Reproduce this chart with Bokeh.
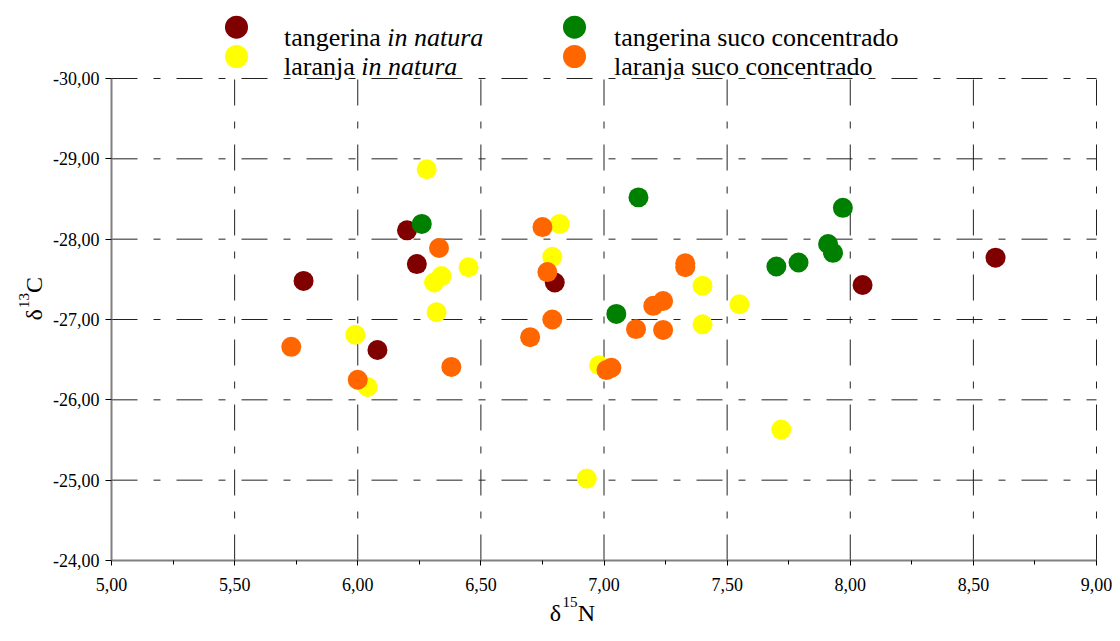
import math
from bokeh.plotting import figure
from bokeh.models import Range1d, SingleIntervalTicker, CustomJSTickFormatter, LinearAxis
from bokeh.embed import file_html
from bokeh.resources import INLINE
from bokeh.core.properties import value

# ---------------- data ----------------
series_names = ["tangerina in natura", "laranja in natura",
                "tangerina suco concentrado", "laranja suco concentrado"]
series_colors = ["#800000", "#FFFF00", "#008000", "#FF6600"]

tang_nat_n15 = [5.78, 6.20, 6.24, 6.08, 6.80, 8.05, 8.59]
tang_nat_c13 = [-27.48, -28.11, -27.69, -26.62, -27.46, -27.43, -27.77]

lar_nat_n15 = [6.28, 6.45, 6.34, 6.31, 6.32, 5.99, 6.04, 6.82, 6.79, 7.40, 7.55, 7.40, 6.98, 7.72, 6.93]
lar_nat_c13 = [-28.87, -27.65, -27.54, -27.46, -27.09, -26.81, -26.16, -28.19, -27.78, -27.42, -27.19, -26.94, -26.43, -25.63, -25.02]

tang_suco_n15 = [7.14, 7.97, 7.91, 7.93, 7.70, 7.79, 7.05, 6.26]
tang_suco_c13 = [-28.52, -28.39, -27.94, -27.83, -27.66, -27.71, -27.07, -28.19]

lar_suco_n15 = [6.33, 5.73, 6.38, 6.00, 6.75, 6.77, 6.79, 6.70, 7.33, 7.33, 7.20, 7.24, 7.13, 7.24, 7.01, 7.03]
lar_suco_c13 = [-27.89, -26.66, -26.41, -26.25, -28.15, -27.59, -27.00, -26.78, -27.65, -27.70, -27.17, -27.23, -26.88, -26.87, -26.37, -26.40]

x_ticks = [5.0, 5.5, 6.0, 6.5, 7.0, 7.5, 8.0, 8.5, 9.0]
y_ticks = [-30.0, -29.0, -28.0, -27.0, -26.0, -25.0, -24.0]
x_min, x_max = 5.0, 9.0
y_top, y_bottom = -30.0, -24.0   # reversed axis: -30 on top

FONT = "Liberation Serif"

# ---------------- geometry (canvas pixels) ----------------
CANVAS_W, CANVAS_H = 1112, 625
PLOT_L, PLOT_R, PLOT_T, PLOT_B = 111, 1096, 78, 560

def dxp(px):
    return x_min + (px - PLOT_L) * (x_max - x_min) / (PLOT_R - PLOT_L)

def dyp(py):
    return y_top + (py - PLOT_T) * (y_bottom - y_top) / (PLOT_B - PLOT_T)

p = figure(width=CANVAS_W, height=CANVAS_H,
           x_range=Range1d(dxp(0), dxp(CANVAS_W)),
           y_range=Range1d(dyp(CANVAS_H), dyp(0)),
           min_border=0, x_axis_location=None, y_axis_location=None,
           toolbar_location=None, output_backend="svg")
p.outline_line_color = None
p.grid.visible = False
p.background_fill_color = None
p.border_fill_color = None

fmt = CustomJSTickFormatter(code="return tick.toFixed(2).replace('.', ',');")

xaxis = LinearAxis(fixed_location=y_bottom, bounds=(x_min, x_max),
                   ticker=SingleIntervalTicker(interval=0.5, num_minor_ticks=2), formatter=fmt)
yaxis = LinearAxis(fixed_location=x_min, bounds=(y_top, y_bottom),
                   ticker=SingleIntervalTicker(interval=1.0, num_minor_ticks=0), formatter=fmt)
for ax in (xaxis, yaxis):
    ax.axis_line_color = "#808080"
    ax.axis_line_width = 2
    ax.major_tick_line_color = "black"
    ax.major_tick_in = 0
    ax.major_label_text_font = FONT
    ax.major_label_text_font_size = "18px"
    ax.major_label_text_color = "black"
xaxis.major_tick_out = 5
xaxis.minor_tick_out = 4
xaxis.minor_tick_in = 0
xaxis.minor_tick_line_color = "black"
xaxis.major_label_standoff = 12
yaxis.major_tick_out = 6
yaxis.minor_tick_line_color = None
yaxis.major_label_standoff = 6
p.add_layout(xaxis, "below")
p.add_layout(yaxis, "left")

# dashed grid (dash-dot pattern), limited to the plotting area
GRID = dict(line_color="#222222", line_width=1, line_dash="26 16 7 16")
vx = [t for t in x_ticks if t != x_min]
p.segment(x0=vx, y0=[y_bottom] * len(vx), x1=vx, y1=[y_top] * len(vx), **GRID)
hy = [t for t in y_ticks if t != y_bottom]
p.segment(x0=[x_min] * len(hy), y0=hy, x1=[x_max] * len(hy), y1=hy, **GRID)

# data
series = [(tang_nat_n15, tang_nat_c13), (lar_nat_n15, lar_nat_c13),
          (tang_suco_n15, tang_suco_c13), (lar_suco_n15, lar_suco_c13)]
for (xs, ys), col in zip(series, series_colors):
    p.scatter(x=xs, y=ys, size=20, fill_color=col, line_color=None)

# ---------------- legend (two columns above the plot) ----------------
col_marker_x = [236, 574]
col_text_x = [283.5, 613.5]
row_marker_y = [26.7, 56.0]
row_base_y = [36.7, 65.5]
legend_layout = [(0, 0, 0, "tangerina ", "in natura"),
                 (1, 0, 1, "laranja ", "in natura"),
                 (2, 1, 0, "tangerina suco concentrado", ""),
                 (3, 1, 1, "laranja suco concentrado", "")]
prefix_em = {"tangerina ": 3.971, "laranja ": 2.971}
LEG_FS = 26
for si, c, r, norm, ital in legend_layout:
    p.scatter(x=[dxp(col_marker_x[c])], y=[dyp(row_marker_y[r])], size=23,
              fill_color=series_colors[si], line_color=None)
    p.text(x=[dxp(col_text_x[c])], y=[dyp(row_base_y[r])], text=[norm],
           text_font=value(FONT), text_font_size=f"{LEG_FS}px",
           text_baseline="alphabetic", text_align="left", text_color="black")
    if ital:
        p.text(x=[dxp(col_text_x[c] + prefix_em[norm] * LEG_FS)], y=[dyp(row_base_y[r])], text=[ital],
               text_font=value(FONT), text_font_size=f"{LEG_FS}px", text_font_style="italic",
               text_baseline="alphabetic", text_align="left", text_color="black")

# ---------------- axis titles with superscripts ----------------
def title_piece(px, py, txt, size, angle=0.0):
    p.text(x=[dxp(px)], y=[dyp(py)], text=[txt], text_font=value(FONT),
           text_font_size=f"{size}px", text_color="black",
           text_align="left", text_baseline="alphabetic", angle=angle)

# x title  δ15N
title_piece(549.3, 612, "δ", 24)
title_piece(562.0, 601, "15", 15)
title_piece(577.3, 612, "N", 24)
# y title  δ13C (rotated)
title_piece(33, 320, "δ", 24, math.pi / 2)
title_piece(23, 307.5, "13", 15, math.pi / 2)
title_piece(33, 292.5, "C", 24, math.pi / 2)

open("out.html", "w").write(file_html(p, INLINE))
